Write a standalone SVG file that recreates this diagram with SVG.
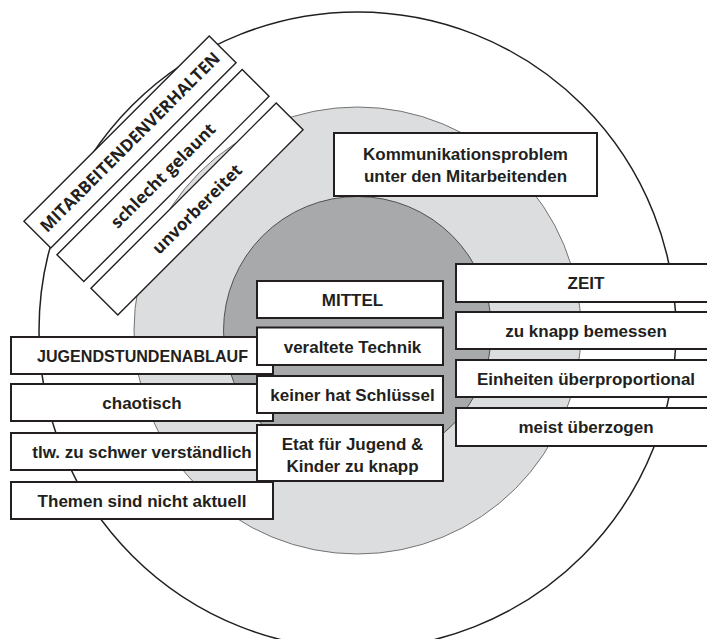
<svg xmlns="http://www.w3.org/2000/svg" width="707" height="639" viewBox="0 0 707 639">
<style>
.box{fill:#fff;stroke:#231f20;stroke-width:2}
.rbox{fill:#fff;stroke:#231f20;stroke-width:1.4}
.t{font-family:"Liberation Sans",Arial,sans-serif;font-weight:bold;font-size:17px;fill:#231f20;text-anchor:middle}
.rt{font-family:"Open Sans","Noto Sans",sans-serif;font-weight:bold;font-size:17px;fill:#231f20;text-anchor:middle}
</style>
<rect width="707" height="639" fill="#fff"/>
<g id="rings">
<circle cx="357.5" cy="330.5" r="318.5" fill="#fff" stroke="#231f20" stroke-width="1.5"/>
<circle cx="357.5" cy="330.5" r="223.5" fill="#dcddde" stroke="#555" stroke-width="0.8"/>
<circle cx="357.5" cy="330.5" r="134" fill="#a8a9ab" stroke="#333" stroke-width="0.8"/>
</g>
<g id="connectors"></g>
<g id="jugend">
<g id="n-jug"><rect class="box" x="11" y="337" width="262" height="37"/><text class="t" x="142.5" y="361.5" textLength="211" lengthAdjust="spacingAndGlyphs">JUGENDSTUNDENABLAUF</text></g>
<g id="n-chaotisch"><rect class="box" x="11" y="384" width="262" height="37"/><text class="t" x="142" y="408.5">chaotisch</text></g>
<g id="n-tlw"><rect class="box" x="11" y="433" width="262" height="37"/><text class="t" x="142" y="457.5">tlw. zu schwer verständlich</text></g>
<g id="n-themen"><rect class="box" x="11" y="482" width="262" height="37"/><text class="t" x="142" y="506.5">Themen sind nicht aktuell</text></g>
</g>
<g id="mittel">
<g id="n-mittel"><rect class="box" x="257" y="281" width="186" height="37"/><text class="t" x="352.5" y="306">MITTEL</text></g>
<g id="n-technik"><rect class="box" x="257" y="327.5" width="186" height="37.5"/><text class="t" x="352.5" y="352.5">veraltete Technik</text></g>
<g id="n-schluessel"><rect class="box" x="257" y="376" width="186" height="37"/><text class="t" x="352.5" y="400.5">keiner hat Schlüssel</text></g>
<g id="n-etat"><rect class="box" x="257" y="425" width="186" height="56"/><text class="t" x="352.5" y="449.5">Etat für Jugend &amp;</text><text class="t" x="352.5" y="471.5">Kinder zu knapp</text></g>
</g>
<g id="zeit">
<g id="n-zeit"><rect class="box" x="456" y="264" width="270" height="38"/><text class="t" x="586" y="289">ZEIT</text></g>
<g id="n-knapp"><rect class="box" x="456" y="312" width="270" height="37"/><text class="t" x="586" y="336.5">zu knapp bemessen</text></g>
<g id="n-einheiten"><rect class="box" x="456" y="360" width="270" height="37"/><text class="t" x="586" y="384.5">Einheiten überproportional</text></g>
<g id="n-meist"><rect class="box" x="456" y="408" width="270" height="38"/><text class="t" x="586" y="433">meist überzogen</text></g>
</g>
<g id="n-kommunikation"><rect class="box" x="334" y="133" width="263" height="63"/><text class="t" x="465.5" y="160">Kommunikationsproblem</text><text class="t" x="465.5" y="182">unter den Mitarbeitenden</text></g>
<g id="mitarbeitende">
<g id="n-mav" transform="translate(130 142) rotate(-45)"><rect class="rbox" x="-131" y="-19" width="262" height="38"/><text class="rt" x="0" y="6" textLength="246" lengthAdjust="spacingAndGlyphs">MITARBEITENDENVERHALTEN</text></g>
<g id="n-gelaunt" transform="translate(163 175.5) rotate(-45)"><rect class="rbox" x="-131" y="-19" width="262" height="38"/><text class="rt" x="0" y="6">schlecht gelaunt</text></g>
<g id="n-unvorbereitet" transform="translate(197 209) rotate(-45)"><rect class="rbox" x="-131" y="-19" width="262" height="38"/><text class="rt" x="0" y="6">unvorbereitet</text></g>
</g>
</svg>
